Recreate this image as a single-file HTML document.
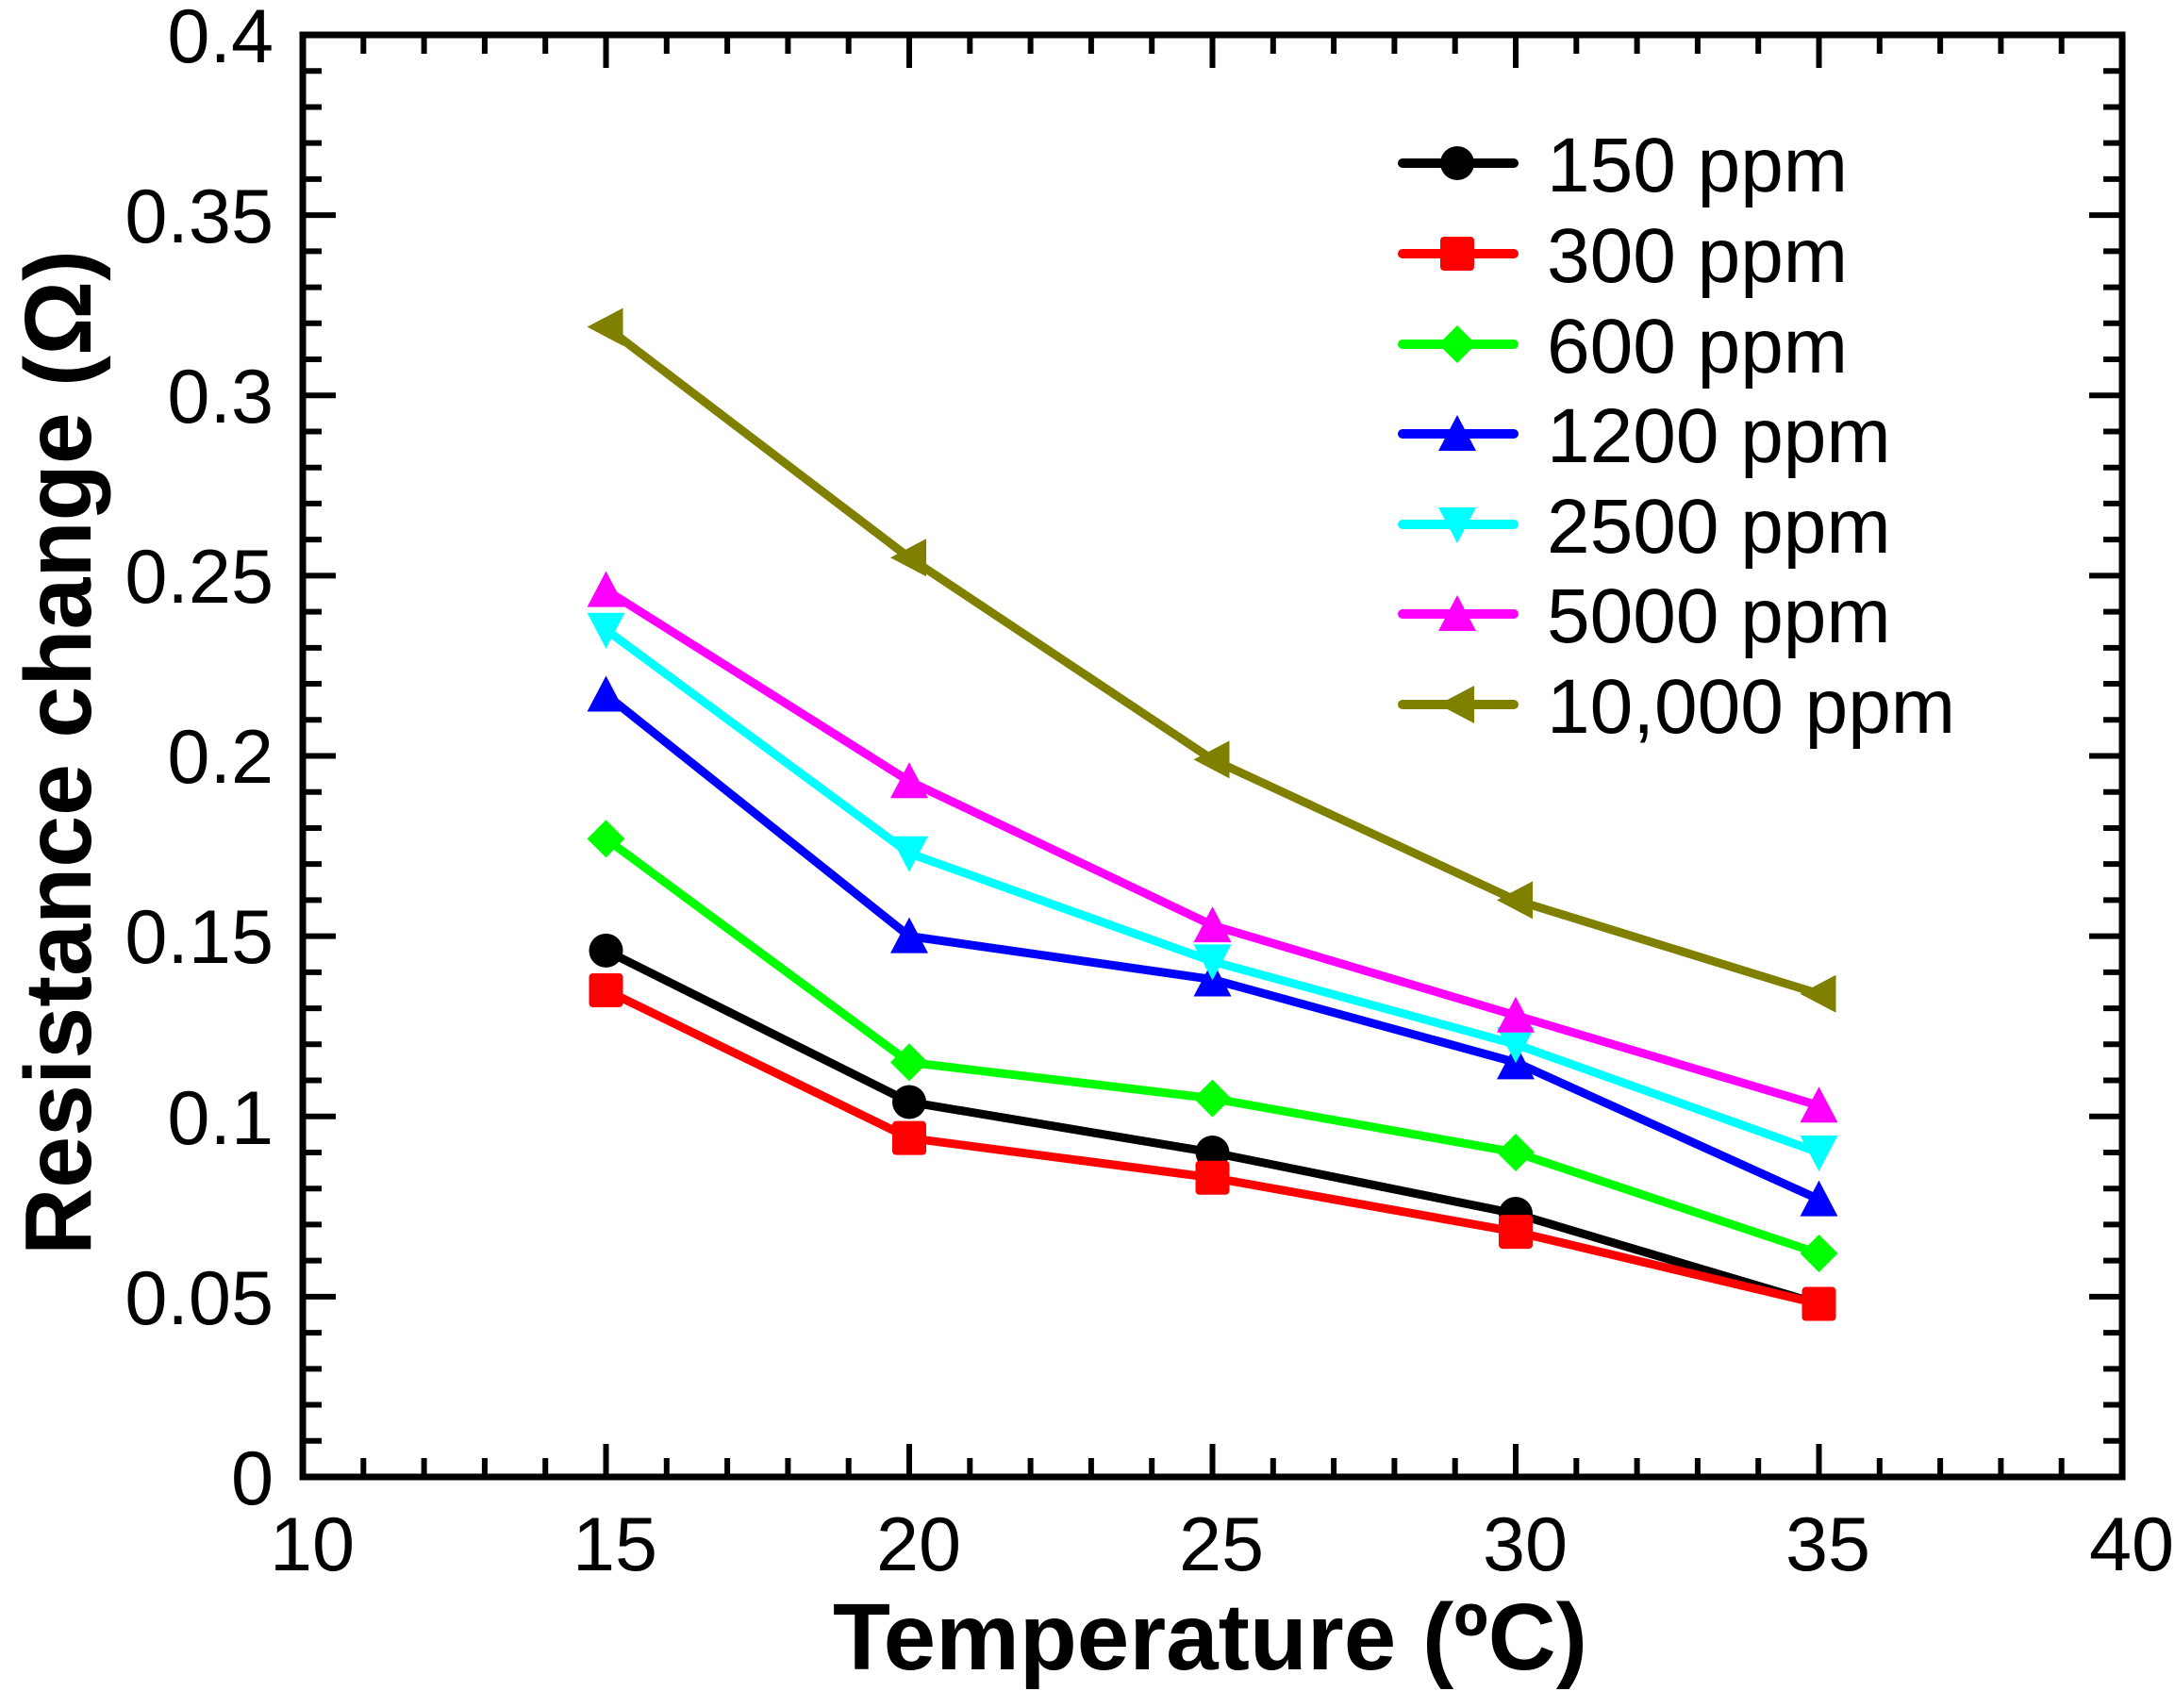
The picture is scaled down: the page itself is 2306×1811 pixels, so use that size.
<!DOCTYPE html>
<html><head><meta charset="utf-8"><style>
html,body{margin:0;padding:0;background:#fff;}
svg{display:block;}
text{font-family:"Liberation Sans",Arial,sans-serif;fill:#000;}
</style></head><body>
<svg id="c" width="2306" height="1811" viewBox="0 0 2306 1811" xmlns="http://www.w3.org/2000/svg">
<rect x="0" y="0" width="2306" height="1811" fill="#fff"/>
<g id="ticks" stroke="#000" stroke-width="6"></g>
<g id="series"></g>
<rect x="321" y="37" width="1929" height="1529" fill="none" stroke="#000" stroke-width="7"/>
<g font-size="81" text-anchor="end">
<text x="290" y="66">0.4</text>
<text x="290" y="257">0.35</text>
<text x="290" y="448">0.3</text>
<text x="290" y="639">0.25</text>
<text x="290" y="830">0.2</text>
<text x="290" y="1021">0.15</text>
<text x="290" y="1213">0.1</text>
<text x="290" y="1404">0.05</text>
<text x="290" y="1595">0</text>
</g>
<g font-size="81" text-anchor="middle">
<text x="331" y="1665">10</text>
<text x="652" y="1665">15</text>
<text x="974" y="1665">20</text>
<text x="1295" y="1665">25</text>
<text x="1617" y="1665">30</text>
<text x="1938" y="1665">35</text>
<text x="2260" y="1665">40</text>
</g>
<text x="1283" y="1770" font-size="100" font-weight="bold" text-anchor="middle" textLength="800" lengthAdjust="spacingAndGlyphs">Temperature (ºC)</text>
<text transform="translate(96,798) rotate(-90)" font-size="100" font-weight="bold" text-anchor="middle" textLength="1066" lengthAdjust="spacingAndGlyphs">Resistance change (Ω)</text>
<g id="legend"></g>
<g font-size="82">
<text x="1640" y="203">150 ppm</text>
<text x="1640" y="299">300 ppm</text>
<text x="1640" y="395">600 ppm</text>
<text x="1640" y="490">1200 ppm</text>
<text x="1640" y="586">2500 ppm</text>
<text x="1640" y="681">5000 ppm</text>
<text x="1640" y="777">10,000 ppm</text>
</g>
</svg>
<script>
var NS="http://www.w3.org/2000/svg";
function X(v){return 321+(v-10)*64.3;}
function Y(v){return 1566-v*3822.5;}
function el(p,t,a){var e=document.createElementNS(NS,t);for(var k in a)e.setAttribute(k,a[k]);p.appendChild(e);return e;}
var tk=document.getElementById('ticks');
for(var i=10;i<=40;i++){var x=X(i);var L=(i%5==0)?35:20;
 el(tk,'line',{x1:x,y1:1566,x2:x,y2:1566-L});el(tk,'line',{x1:x,y1:37,x2:x,y2:37+L});}
for(var j=0;j<=40;j++){var y=Y(j*0.01);var L=(j%5==0)?35:20;
 el(tk,'line',{x1:321,y1:y,x2:321+L,y2:y});el(tk,'line',{x1:2250,y1:y,x2:2250-L,y2:y});}
var xs=[15,20,25,30,35];
var S=[
 ['#000','c',[0.146,0.104,0.090,0.073,0.048]],
 ['#f00','s',[0.135,0.094,0.083,0.068,0.048]],
 ['#0f0','d',[0.177,0.115,0.105,0.090,0.062]],
 ['#00f','u',[0.217,0.150,0.138,0.115,0.077]],
 ['#0ff','v',[0.235,0.173,0.143,0.120,0.090]],
 ['#f0f','u',[0.246,0.193,0.153,0.128,0.103]],
 ['#808000','l',[0.319,0.255,0.199,0.160,0.134]]];
function mk(g,t,x,y,c){var r=18;
 if(t=='c')el(g,'circle',{cx:x,cy:y,r:r,fill:c});
 else if(t=='s')el(g,'rect',{x:x-r,y:y-r,width:2*r,height:2*r,rx:4,fill:c});
 else if(t=='d')el(g,'polygon',{points:[x,y-r-2,x+r+2,y,x,y+r+2,x-r-2,y].join(','),fill:c});
 else if(t=='u')el(g,'polygon',{points:[x,y-r-2,x+r+2,y+r,x-r-2,y+r].join(','),fill:c});
 else if(t=='v')el(g,'polygon',{points:[x,y+r+2,x+r+2,y-r,x-r-2,y-r].join(','),fill:c});
 else if(t=='l')el(g,'polygon',{points:[x-r-2,y,x+r,y-r-2,x+r,y+r+2].join(','),fill:c});}
var sg=document.getElementById('series'),lg=document.getElementById('legend');
var ly=[173,269,365,460,556,651,747];
S.forEach(function(s,k){
 var pts=s[2].map(function(v,i){return X(xs[i])+','+Y(v);}).join(' ');
 el(sg,'polyline',{points:pts,fill:'none',stroke:s[0],'stroke-width':9,'stroke-linejoin':'round'});
 s[2].forEach(function(v,i){mk(sg,s[1],X(xs[i]),Y(v),s[0]);});
 el(lg,'line',{x1:1487,y1:ly[k],x2:1605,y2:ly[k],stroke:s[0],'stroke-width':10,'stroke-linecap':'round'});
 mk(lg,s[1],1545,ly[k],s[0]);
});
</script>
</body></html>
